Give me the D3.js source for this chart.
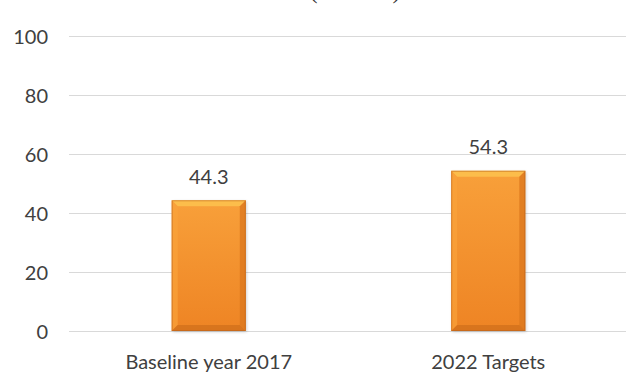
<!DOCTYPE html>
<html>
<head>
<meta charset="utf-8">
<script src="https://cdn.jsdelivr.net/npm/d3@7"></script>
<style>
  html, body { margin: 0; padding: 0; background: #fff; }
  svg { display: block; }
</style>
</head>
<body>
<svg id="chart" width="626" height="372"></svg>
<script>
const categories = ["Baseline year 2017", "2022 Targets"];
const values = [44.3, 54.3];
const yTicks = [0, 20, 40, 60, 80, 100];
const titleText = "(Percent)";

const svg = d3.select("#chart");
const FONT = "Lato, 'Open Sans', sans-serif";
const FS = 20;

const y = d3.scaleLinear().domain([0, 100]).range([331, 36]);
const x = d3.scaleBand().domain(categories).range([69, 628]).paddingInner(0.735).paddingOuter(0.3675);

const defs = svg.append("defs");
const g1 = defs.append("linearGradient").attr("id", "barGrad").attr("x1", 0).attr("y1", 0).attr("x2", 0).attr("y2", 1);
g1.append("stop").attr("offset", "0%").attr("stop-color", "#f8a03a");
g1.append("stop").attr("offset", "100%").attr("stop-color", "#ee8424");
const blur = defs.append("filter").attr("id", "shadow").attr("x", "-20%").attr("y", "-20%").attr("width", "140%").attr("height", "140%");
blur.append("feGaussianBlur").attr("stdDeviation", 1.5);

// title (clipped at top, as in the reference)
svg.append("text")
  .attr("x", 355).attr("y", -2)
  .attr("text-anchor", "middle")
  .attr("font-family", "Liberation Serif, serif")
  .attr("font-size", 25)
  .attr("fill", "#333")
  .text(titleText);

// gridlines
svg.append("g").selectAll("line").data(yTicks).join("line")
  .attr("x1", 69).attr("x2", 626)
  .attr("y1", d => Math.round(y(d)) + 0.5).attr("y2", d => Math.round(y(d)) + 0.5)
  .attr("stroke", "#d9d9d9").attr("stroke-width", 1);

// y tick labels
svg.append("g").selectAll("text").data(yTicks).join("text")
  .attr("x", 48).attr("y", d => y(d) + 7.5)
  .attr("text-anchor", "end")
  .attr("font-family", FONT)
  .attr("font-size", FS)
  .attr("fill", "#404040")
  .text(d => d);

// bars
const bars = svg.append("g").selectAll("g").data(categories).join("g");
const bw = x.bandwidth();
const bev = 6;

bars.append("rect")
  .attr("x", d => x(d) + 1).attr("y", (d, i) => y(values[i]) + 1)
  .attr("width", bw).attr("height", (d, i) => y(0) - y(values[i]))
  .attr("fill", "#000").attr("opacity", 0.18).attr("filter", "url(#shadow)");

bars.append("rect")
  .attr("x", d => x(d)).attr("y", (d, i) => y(values[i]))
  .attr("width", bw).attr("height", (d, i) => y(0) - y(values[i]))
  .attr("fill", "url(#barGrad)");

bars.append("path")
  .attr("d", (d, i) => {
    const x0 = x(d), x1 = x(d) + bw, t = y(values[i]);
    return `M${x0},${t}L${x1},${t}L${x1 - bev},${t + bev}L${x0 + bev},${t + bev}Z`;
  })
  .attr("fill", "#fcc04e").attr("opacity", 0.9);
bars.append("path")
  .attr("d", (d, i) => {
    const x0 = x(d), t = y(values[i]), b = y(0);
    return `M${x0},${t}L${x0 + bev},${t + bev}L${x0 + bev},${b - bev}L${x0},${b}Z`;
  })
  .attr("fill", "#f9a23a").attr("opacity", 0.7);
bars.append("path")
  .attr("d", (d, i) => {
    const x1 = x(d) + bw, t = y(values[i]), b = y(0);
    return `M${x1},${t}L${x1 - bev},${t + bev}L${x1 - bev},${b - bev}L${x1},${b}Z`;
  })
  .attr("fill", "#dc781e").attr("opacity", 0.8);
bars.append("path")
  .attr("d", (d, i) => {
    const x0 = x(d), x1 = x(d) + bw, b = y(0);
    return `M${x0},${b}L${x0 + bev},${b - bev}L${x1 - bev},${b - bev}L${x1},${b}Z`;
  })
  .attr("fill", "#d2701c").attr("opacity", 0.8);
bars.append("rect")
  .attr("x", d => x(d) + 0.5).attr("y", (d, i) => y(values[i]) + 0.5)
  .attr("width", bw - 1).attr("height", (d, i) => y(0) - y(values[i]) - 1)
  .attr("fill", "none").attr("stroke", "#b8601a").attr("stroke-opacity", 0.5);

// value labels
svg.append("g").selectAll("text").data(categories).join("text")
  .attr("x", d => x(d) + bw / 2)
  .attr("y", (d, i) => y(values[i]) - 16.5)
  .attr("text-anchor", "middle")
  .attr("font-family", FONT)
  .attr("font-size", FS)
  .attr("fill", "#404040")
  .text((d, i) => values[i].toFixed(1));

// x labels
svg.append("g").selectAll("text").data(categories).join("text")
  .attr("x", d => x(d) + bw / 2)
  .attr("y", 369)
  .attr("text-anchor", "middle")
  .attr("font-family", FONT)
  .attr("font-size", FS)
  .attr("fill", "#404040")
  .text(d => d);
</script>
</body>
</html>
